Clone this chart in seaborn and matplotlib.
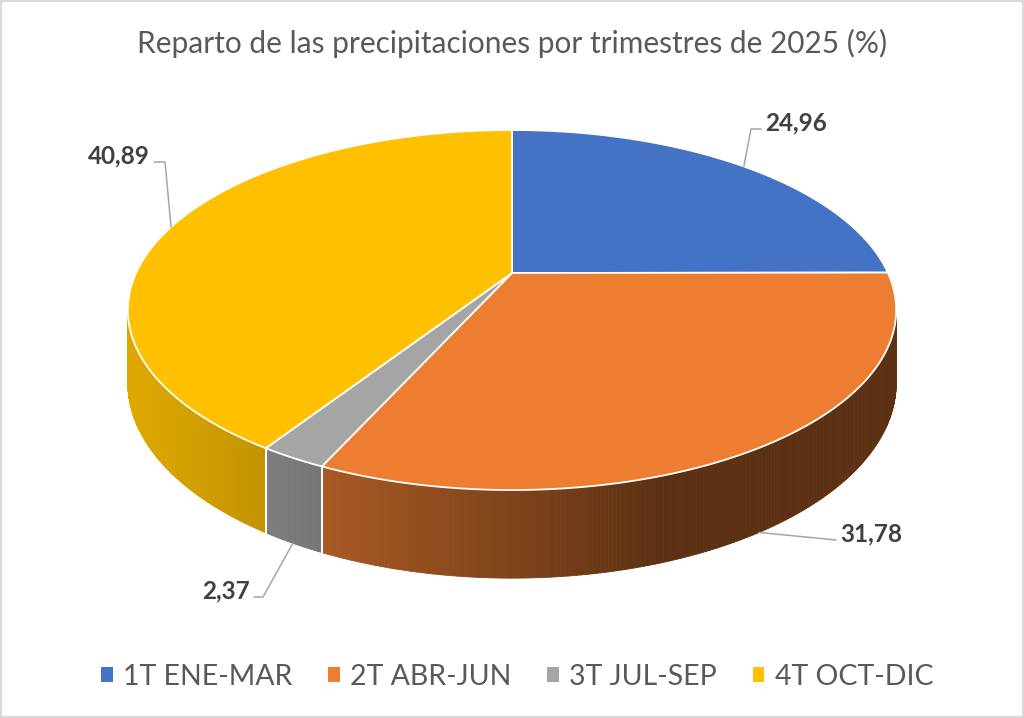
import matplotlib
matplotlib.use('Agg')
import numpy as np
import matplotlib.pyplot as plt
from matplotlib.patches import Polygon, Patch, Rectangle
from matplotlib.colors import to_rgb
import seaborn as sns

# datos
trimestres = ['1T ENE-MAR', '2T ABR-JUN', '3T JUL-SEP', '4T OCT-DIC']
porcentajes = [24.96, 31.78, 2.37, 40.89]
etiquetas = ['24,96', '31,78', '2,37', '40,89']
colores = ['#4472C4', '#ED7D31', '#A5A5A5', '#FFC000']

sns.set_theme(style='white')
plt.rcParams['font.family'] = ['Lato', 'DejaVu Sans']

# geometry of the fake 3D pie (pixel space)
CX, CY = 512, 273
RX, RY = 376, 172.4
PERSP = 0.2056
DEPTH = 70
LIGHT = np.deg2rad(-162)
SIL = np.arcsin(PERSP)          # silhouette angle


def proj(theta):
    w = 1 + PERSP * np.sin(theta)
    return CX + RX * np.cos(theta) / w, CY - RY * np.sin(theta) / w, w


def shade(theta):
    return 0.39 + 0.48 * max(0.0, np.cos(theta - LIGHT))


fig = plt.figure(figsize=(10.24, 7.18), dpi=100)
ax = fig.add_axes([0, 0, 1, 1])
ax.set_xlim(0, 1024)
ax.set_ylim(718, 0)
ax.axis('off')

total = sum(porcentajes)
cum = np.concatenate([[0], np.cumsum(porcentajes)])
starts = np.deg2rad(90 - 360 * cum[:-1] / total)
ends = np.deg2rad(90 - 360 * cum[1:] / total)

vis_lo, vis_hi = -np.pi + SIL, -SIL

# side walls
for i, (t0, t1) in enumerate(zip(starts, ends)):
    base = np.array(to_rgb(colores[i]))
    for k in (-2 * np.pi, 0, 2 * np.pi):
        a, b = max(t1 + k, vis_lo), min(t0 + k, vis_hi)
        if a >= b:
            continue
        n = max(2, int(np.rad2deg(b - a) * 2))
        ts = np.linspace(a, b, n + 1)
        for ta, tb in zip(ts[:-1], ts[1:]):
            xa, ya, wa = proj(ta)
            xb, yb, wb = proj(tb)
            c = np.clip(base * shade((ta + tb) / 2), 0, 1)
            ax.add_patch(Polygon([(xa, ya), (xb, yb), (xb, yb + DEPTH / wb), (xa, ya + DEPTH / wa)],
                                 closed=True, facecolor=c, edgecolor=c, lw=0.6, zorder=2))
        for tt in (a, b):
            if vis_lo + 1e-3 < tt < vis_hi - 1e-3:
                x, y, w = proj(tt)
                ax.plot([x, x], [y, y + DEPTH / w], color='white', lw=1.4, zorder=3)

# top faces
for i, (t0, t1) in enumerate(zip(starts, ends)):
    ts = np.linspace(t0, t1, 200)
    xs, ys, _ = proj(ts)
    pts = [(CX, CY)] + list(zip(xs, ys))
    ax.add_patch(Polygon(pts, closed=True, facecolor=colores[i], edgecolor='white',
                         lw=1.3, joinstyle='round', zorder=4))

# data labels with leader lines: (text x, baseline y, ha, elbow x)
lab_layout = [(765, 130, 'left', 751), (840, 541, 'left', None),
              (250, 598, 'right', 263), (150, 163, 'right', 165)]
for i, (t0, t1) in enumerate(zip(starts, ends)):
    tm = (t0 + t1) / 2
    x, y, w = proj(tm)
    if np.sin(tm) < 0:
        y = y + DEPTH / w
    lx, ly, ha, ex = lab_layout[i]
    ax.text(lx, ly, etiquetas[i], ha=ha, va='baseline', fontsize=17.5,
            fontweight='bold', color='#404040', zorder=6)
    sx = lx - 4 if ha == 'left' else lx + 4
    if ex is None:
        ax.plot([sx, x], [ly - 1, y], color='#A6A6A6', lw=1.1, zorder=5)
    else:
        ax.plot([sx, ex, x], [ly - 1, ly - 1, y], color='#A6A6A6', lw=1.1, zorder=5)

fig.text(0.5, 1 - 43 / 718, 'Reparto de las precipitaciones por trimestres de 2025 (%)',
         ha='center', va='center', fontsize=21.5, color='#595959')

handles = [Patch(facecolor=c, edgecolor='none') for c in colores]
fig.legend(handles, trimestres, loc='center', bbox_to_anchor=(517 / 1024, 1 - 677 / 718),
           ncol=4, frameon=False, fontsize=20.5, labelcolor='#595959',
           handlelength=0.42, handleheight=0.42, handletextpad=0.36, columnspacing=1.25)

fig.patches.append(Rectangle((0, 0), 1, 1, transform=fig.transFigure, fill=False,
                             edgecolor='#D9D9D9', lw=3, zorder=10))

plt.savefig('out.png', dpi=100)
plt.close()
